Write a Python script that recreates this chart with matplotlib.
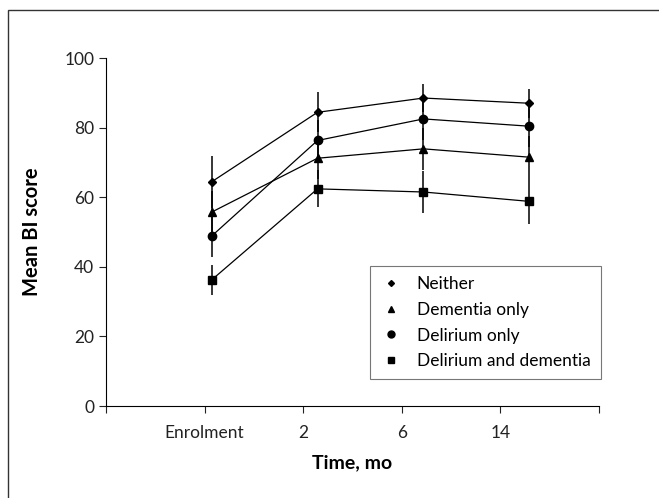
import numpy as np
import matplotlib
matplotlib.use("Agg")
import matplotlib.pyplot as plt
from matplotlib.patches import Rectangle

plt.rcParams['font.family'] = ['Lato', 'DejaVu Sans']

# data
time_labels = ["Enrolment", "2", "6", "14"]
groups = ["Neither", "Dementia only", "Delirium only", "Delirium and dementia"]
markers = ["D", "^", "o", "s"]
marker_sizes = [4, 6, 6, 6]

neither = [64.4, 84.4, 88.5, 87.0]
dementia_only = [55.7, 71.2, 73.9, 71.5]
delirium_only = [48.8, 76.3, 82.5, 80.4]
both = [36.2, 62.4, 61.5, 58.8]

neither_err = [7.4, 5.8, 4.0, 4.2]
dementia_err = [6.0, 6.0, 6.0, 6.0]
delirium_err = [6.0, 6.0, 6.0, 6.0]
both_err = [4.3, 5.3, 6.0, 6.6]

series = [neither, dementia_only, delirium_only, both]
errors = [neither_err, dementia_err, delirium_err, both_err]

fig = plt.figure(figsize=(6.59, 4.98), dpi=100)
ax = fig.add_axes([0.1609, 0.1847, 0.748, 0.6988])

# points sit a little to the right of the ticks in the original
xpos = 1.07 + np.arange(len(time_labels)) * 1.075

for vals, err, m, ms, name in zip(series, errors, markers, marker_sizes, groups):
    ax.errorbar(xpos, vals, yerr=err, fmt='none', ecolor='black', elinewidth=1.1, capsize=0)
    ax.plot(xpos, vals, color='black', lw=0.9, marker=m, ms=ms, mfc='black', mec='black')
    ax.plot([], [], ls='none', marker=m, ms=ms - 1, color='black', label=name)

ax.set_xlim(0, 5)
ax.set_ylim(0, 100)
ax.set_xticks(range(6))
ax.set_xticklabels([""] + time_labels + [""])
ax.set_yticks(range(0, 101, 20))
ax.tick_params(axis='both', direction='out', length=5, width=0.8, labelsize=12.5, colors='#222222')
ax.tick_params(axis='x', pad=9)
for s in ['top', 'right']:
    ax.spines[s].set_visible(False)
for s in ['left', 'bottom']:
    ax.spines[s].set_linewidth(0.8)

ax.set_xlabel("Time, mo", fontsize=14, fontweight='bold', labelpad=9)
ax.set_ylabel("Mean BI score", fontsize=14.5, fontweight='bold', labelpad=16)

leg = ax.legend(loc='upper left', bbox_to_anchor=(370 / 659, 1 - 266 / 498),
                bbox_transform=fig.transFigure, borderaxespad=0, frameon=True,
                fancybox=False, edgecolor='#555555', fontsize=12.5,
                handletextpad=0.9, labelspacing=0.55, borderpad=0.6,
                handlelength=1.2)
leg.get_frame().set_linewidth(0.8)

# outer frame, only left and top edges are inside the picture
fig.patches.append(Rectangle((8 / 659, -0.1), 1.2, 1 - 10 / 498 + 0.1,
                             transform=fig.transFigure, fill=False,
                             edgecolor='#333333', lw=1.0))

fig.savefig("out.png", dpi=100)
